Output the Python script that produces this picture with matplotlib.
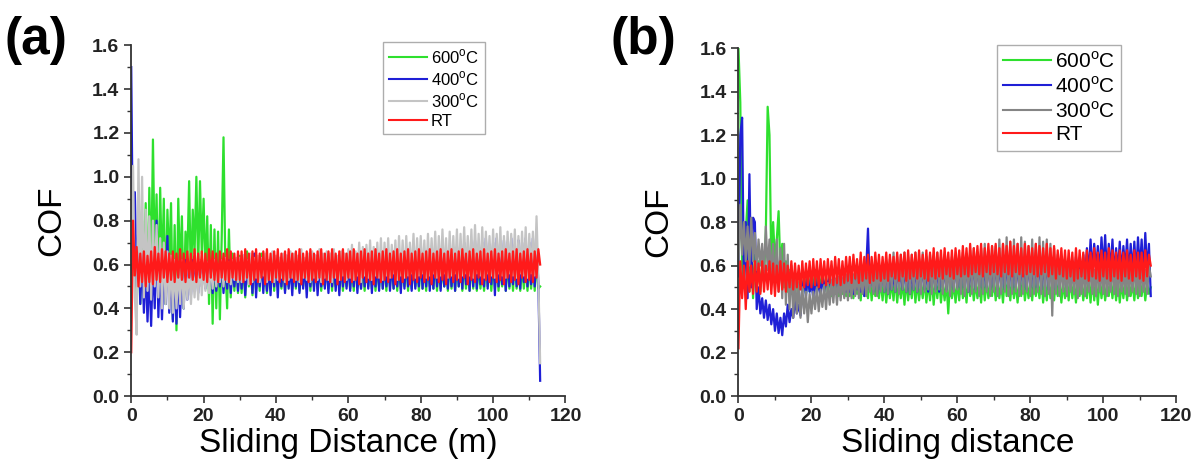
"""
COF vs sliding distance for the four test temperatures, panels (a) and (b).
"""

import numpy as np
import matplotlib
matplotlib.use("Agg")
from matplotlib import pyplot as plt
from matplotlib.ticker import MultipleLocator

# sampling grid: every 0.5 m from 0 to 113 m
distance = np.arange(0, 113.5, 0.5)

labels = ["600$^\\mathrm{o}$C", "400$^\\mathrm{o}$C", "300$^\\mathrm{o}$C", "RT"]

# all COF values below are read off the picture, stored x100
# first list of each series: 0 - 29.5 m, second list: 30 - 113 m

# ---- panel (a) ----
a_600 = [60, 55, 62, 45, 70, 42, 80, 48, 88, 40,
         95, 52, 117, 60, 92, 45, 95, 55, 90, 42,
         85, 60, 88, 35, 78, 30, 90, 55, 82, 40,
         75, 62, 98, 50, 85, 65, 100, 58, 98, 65,
         90, 55, 82, 42, 78, 33, 76, 40, 75, 35,
         72, 118, 60, 40, 76, 45, 65, 48, 62, 47] + \
        [64, 47, 60, 45, 66, 50, 58, 46, 63, 49,
         61, 48, 65, 50, 57, 47, 62, 49, 60, 48,
         62, 50, 58, 49, 61, 48, 63, 50, 59, 49,
         60, 49, 62, 48, 57, 50, 61, 49, 63, 48,
         59, 50, 62, 49, 60, 48, 58, 50, 61, 49,
         62, 48, 60, 50, 59, 49, 63, 48, 60, 50,
         61, 49, 58, 48, 62, 50, 60, 49, 59, 48,
         63, 50, 60, 49, 61, 48, 58, 50, 62, 49,
         60, 48, 61, 50, 59, 49, 62, 48, 60, 49,
         58, 50, 61, 48, 63, 49, 60, 50, 59, 48,
         62, 49, 60, 48, 61, 50, 59, 49, 62, 48,
         60, 49, 58, 50, 61, 48, 62, 49, 60, 48,
         61, 50, 59, 48, 62, 49, 60, 48, 61, 49,
         63, 48, 60, 49, 58, 48, 61, 50, 62, 48,
         60, 49, 61, 48, 59, 50, 62, 48, 60, 49,
         61, 48, 62, 49, 60, 48, 59, 49, 61, 48,
         60, 49, 61, 48, 62, 49, 50]

a_400 = [150, 60, 93, 50, 80, 42, 65, 38, 60, 34,
         58, 32, 62, 40, 80, 36, 62, 35, 60, 42,
         73, 38, 58, 34, 60, 33, 58, 36, 60, 40,
         62, 44, 60, 46, 62, 48, 60, 47, 62, 50,
         60, 49, 61, 50, 60, 47, 62, 48, 60, 50,
         61, 47, 60, 49, 62, 47, 60, 50, 61, 48] + \
        [62, 49, 64, 46, 60, 51, 63, 47, 65, 45,
         61, 50, 63, 47, 62, 48, 60, 46, 64, 50,
         62, 45, 63, 50, 61, 47, 64, 49, 60, 46,
         63, 50, 62, 47, 64, 49, 61, 45, 63, 50,
         62, 48, 64, 46, 60, 50, 63, 49, 61, 47,
         64, 50, 62, 48, 63, 46, 61, 50, 64, 49,
         62, 48, 65, 50, 63, 47, 61, 49, 64, 50,
         62, 49, 65, 47, 63, 50, 62, 48, 66, 49,
         63, 50, 64, 48, 62, 49, 65, 50, 63, 47,
         66, 49, 64, 50, 62, 48, 65, 49, 63, 50,
         66, 49, 64, 50, 67, 48, 63, 49, 65, 50,
         64, 48, 66, 50, 63, 49, 67, 50, 65, 48,
         68, 50, 66, 49, 70, 51, 67, 48, 69, 50,
         71, 49, 68, 51, 70, 50, 72, 49, 69, 51,
         70, 46, 72, 50, 69, 51, 71, 48, 70, 50,
         72, 51, 69, 50, 71, 49, 70, 52, 72, 50,
         70, 51, 72, 50, 68, 52, 7]

a_300 = [70, 105, 45, 28, 108, 50, 100, 45, 85, 48,
         82, 44, 80, 50, 78, 45, 72, 40, 70, 42,
         66, 40, 64, 38, 62, 40, 60, 42, 62, 40,
         58, 44, 60, 42, 58, 45, 60, 44, 62, 46,
         60, 48, 61, 47, 60, 49, 62, 50, 60, 52,
         62, 50, 63, 52, 61, 51, 62, 53, 63, 52] + \
        [63, 52, 64, 53, 62, 51, 65, 52, 63, 54,
         64, 52, 63, 55, 65, 52, 62, 53, 66, 52,
         64, 53, 63, 54, 65, 52, 64, 53, 66, 54,
         65, 53, 64, 52, 67, 54, 63, 53, 65, 52,
         66, 54, 64, 53, 67, 52, 65, 54, 66, 53,
         65, 52, 67, 54, 64, 53, 66, 55, 65, 53,
         67, 54, 69, 53, 66, 55, 70, 52, 68, 55,
         69, 54, 71, 53, 68, 55, 70, 54, 72, 53,
         70, 55, 72, 54, 69, 56, 71, 53, 73, 55,
         71, 54, 73, 55, 70, 56, 74, 54, 72, 55,
         73, 56, 71, 54, 74, 55, 72, 56, 75, 54,
         73, 55, 76, 56, 72, 54, 75, 55, 73, 56,
         76, 54, 74, 55, 77, 56, 73, 55, 76, 54,
         78, 56, 74, 55, 77, 54, 75, 56, 73, 55,
         76, 54, 74, 56, 77, 55, 73, 54, 75, 56,
         74, 55, 76, 54, 73, 56, 75, 55, 77, 54,
         74, 56, 75, 55, 82, 54, 15]

a_rt = [20, 80, 55, 68, 50, 65, 52, 66, 50, 64,
        52, 66, 51, 68, 53, 65, 52, 67, 54, 66,
        52, 65, 53, 66, 52, 65, 54, 67, 53, 65,
        52, 66, 54, 65, 53, 67, 52, 65, 54, 66,
        53, 65, 52, 67, 54, 66, 53, 65, 52, 66,
        54, 65, 53, 67, 52, 66, 54, 65, 53, 66] + \
       [53, 66, 52, 67, 54, 65, 51, 66, 53, 67,
        52, 65, 54, 66, 51, 67, 53, 65, 52, 66,
        54, 67, 52, 65, 53, 66, 51, 67, 54, 65,
        52, 66, 53, 67, 51, 65, 54, 66, 52, 67,
        53, 65, 52, 66, 54, 67, 51, 65, 53, 66,
        52, 67, 54, 65, 51, 66, 53, 67, 52, 65,
        54, 66, 52, 67, 53, 65, 51, 66, 54, 67,
        52, 65, 53, 66, 51, 67, 54, 65, 52, 66,
        53, 67, 52, 65, 54, 66, 51, 67, 53, 65,
        52, 66, 54, 67, 51, 65, 53, 66, 52, 67,
        54, 65, 52, 66, 53, 67, 51, 65, 54, 66,
        52, 67, 53, 65, 51, 66, 54, 67, 52, 65,
        53, 66, 52, 67, 54, 65, 51, 66, 53, 67,
        52, 65, 54, 66, 51, 67, 53, 65, 52, 66,
        54, 67, 52, 65, 53, 66, 51, 67, 54, 65,
        52, 66, 53, 67, 51, 65, 54, 66, 52, 67,
        53, 65, 52, 66, 54, 67, 60]

# ---- panel (b) ----
b_600 = [160, 135, 60, 50, 75, 90, 48, 70, 45, 65,
         50, 62, 48, 60, 55, 75, 133, 120, 60, 80,
         62, 72, 85, 58, 70, 50, 62, 48, 58, 47,
         56, 46, 55, 47, 56, 48, 55, 47, 57, 48,
         56, 49, 58, 48, 57, 49, 56, 48, 55, 47,
         56, 46, 55, 47, 54, 46, 55, 47, 54, 46] + \
        [54, 46, 55, 45, 53, 47, 55, 44, 54, 46,
         53, 45, 55, 44, 52, 46, 54, 45, 53, 44,
         54, 43, 52, 45, 53, 44, 55, 43, 52, 45,
         53, 42, 54, 44, 52, 45, 55, 43, 53, 44,
         52, 45, 54, 43, 53, 44, 55, 42, 53, 45,
         54, 43, 52, 44, 53, 38, 54, 45, 52, 43,
         53, 44, 55, 45, 52, 43, 54, 46, 53, 44,
         52, 45, 54, 43, 55, 44, 53, 45, 52, 46,
         54, 44, 53, 45, 52, 43, 55, 46, 53, 44,
         54, 45, 52, 43, 53, 46, 55, 44, 52, 45,
         53, 44, 54, 46, 52, 45, 55, 43, 53, 44,
         54, 45, 52, 44, 53, 46, 54, 43, 52, 45,
         53, 44, 55, 45, 52, 43, 54, 46, 53, 44,
         52, 45, 54, 43, 55, 44, 53, 42, 54, 45,
         53, 44, 52, 46, 54, 45, 53, 44, 55, 43,
         52, 45, 54, 44, 53, 46, 52, 44, 54, 45,
         53, 46, 54, 44, 52, 47, 50]

b_400 = [55, 120, 128, 50, 80, 45, 102, 50, 82, 80,
         40, 50, 38, 45, 36, 44, 35, 42, 33, 40,
         30, 38, 29, 36, 28, 38, 32, 42, 34, 40,
         36, 44, 38, 42, 37, 50, 54, 46, 55, 48,
         52, 45, 55, 47, 53, 46, 56, 48, 54, 50,
         55, 48, 56, 49, 55, 48, 57, 49, 56, 48] + \
        [56, 48, 58, 47, 57, 49, 55, 48, 57, 46,
         58, 77, 49, 57, 48, 58, 47, 57, 49, 58,
         48, 59, 47, 58, 49, 57, 48, 59, 50, 58,
         49, 60, 48, 59, 47, 58, 49, 60, 48, 59,
         50, 60, 49, 58, 48, 61, 50, 59, 49, 60,
         48, 61, 50, 59, 49, 60, 50, 62, 49, 61,
         50, 60, 49, 62, 50, 61, 48, 60, 50, 62,
         49, 61, 50, 62, 49, 60, 50, 63, 49, 61,
         50, 62, 49, 61, 50, 63, 49, 62, 50, 61,
         49, 63, 50, 61, 49, 62, 50, 63, 49, 62,
         50, 61, 49, 63, 50, 62, 49, 61, 50, 63,
         49, 62, 50, 61, 49, 63, 50, 62, 51, 61,
         50, 63, 51, 62, 52, 64, 51, 63, 53, 65,
         55, 68, 56, 72, 57, 70, 58, 69, 56, 73,
         58, 74, 56, 70, 57, 72, 55, 68, 57, 71,
         56, 69, 58, 72, 55, 70, 57, 71, 56, 73,
         58, 72, 55, 75, 57, 70, 46]

b_300 = [60, 88, 65, 80, 62, 78, 60, 82, 62, 75,
         58, 72, 60, 70, 56, 78, 58, 72, 55, 70,
         50, 72, 48, 68, 45, 70, 42, 65, 40, 60,
         36, 55, 38, 52, 36, 50, 38, 48, 34, 47,
         38, 48, 40, 50, 39, 49, 41, 51, 40, 52,
         42, 53, 43, 54, 42, 55, 44, 54, 45, 56] + \
        [44, 57, 45, 56, 46, 58, 45, 57, 47, 58,
         46, 57, 48, 59, 47, 58, 46, 60, 48, 59,
         48, 60, 47, 63, 49, 66, 48, 64, 47, 65,
         49, 66, 48, 64, 47, 65, 49, 66, 48, 63,
         47, 66, 48, 64, 49, 65, 47, 63, 48, 66,
         49, 64, 47, 65, 48, 62, 46, 64, 48, 63,
         49, 64, 47, 66, 46, 65, 48, 67, 47, 68,
         48, 66, 46, 68, 47, 70, 48, 67, 46, 69,
         48, 69, 46, 72, 47, 70, 48, 73, 46, 71,
         47, 72, 48, 70, 46, 73, 47, 71, 48, 69,
         46, 72, 47, 70, 48, 73, 47, 71, 46, 72,
         47, 70, 37, 68, 47, 65, 46, 62, 48, 61,
         46, 60, 48, 59, 47, 61, 45, 58, 47, 60,
         46, 59, 48, 61, 47, 58, 46, 60, 48, 59,
         47, 60, 46, 58, 48, 61, 47, 59, 46, 60,
         48, 58, 47, 60, 46, 59, 48, 61, 47, 59,
         46, 60, 48, 58, 47, 60, 55]

b_rt = [22, 62, 45, 60, 40, 62, 48, 60, 47, 62,
        48, 61, 47, 62, 48, 60, 49, 62, 47, 61,
        46, 60, 48, 62, 49, 61, 48, 60, 50, 62,
        49, 61, 50, 60, 49, 62, 50, 61, 51, 62,
        50, 63, 51, 62, 50, 63, 52, 62, 51, 63,
        52, 62, 51, 64, 52, 63, 51, 62, 52, 64] + \
       [53, 64, 52, 65, 54, 63, 52, 66, 53, 64,
        54, 65, 52, 64, 53, 66, 54, 65, 53, 64,
        54, 66, 53, 65, 55, 64, 54, 66, 53, 65,
        55, 66, 53, 67, 54, 65, 55, 66, 54, 67,
        55, 65, 54, 67, 53, 66, 55, 68, 54, 66,
        55, 67, 54, 68, 56, 66, 55, 67, 54, 68,
        56, 67, 55, 69, 56, 68, 55, 70, 56, 68,
        57, 69, 56, 70, 55, 68, 57, 70, 56, 69,
        57, 70, 56, 68, 55, 70, 57, 69, 56, 71,
        55, 69, 57, 70, 56, 68, 55, 70, 56, 69,
        57, 68, 56, 70, 55, 69, 56, 68, 57, 70,
        55, 68, 56, 69, 54, 67, 56, 68, 55, 67,
        54, 67, 55, 66, 53, 68, 54, 67, 55, 66,
        54, 67, 53, 66, 55, 68, 54, 66, 53, 67,
        55, 66, 54, 68, 53, 67, 55, 66, 54, 67,
        53, 66, 55, 67, 54, 65, 53, 67, 55, 66,
        54, 66, 53, 67, 55, 65, 60]

colors_a = ["#2ee02e", "#1f1fd6", "#c4c4c4", "#ff1a1a"]
colors_b = ["#2ee02e", "#1f1fd6", "#858585", "#ff1a1a"]

plt.rcParams["font.family"] = ["Liberation Sans", "DejaVu Sans"]
plt.rcParams["mathtext.fontset"] = "custom"
plt.rcParams["mathtext.rm"] = "Liberation Sans"


def style_axes(ax, xlabel):
    ax.set_xlim(0, 120)
    ax.set_ylim(0, 1.6)
    ax.xaxis.set_major_locator(MultipleLocator(20))
    ax.xaxis.set_minor_locator(MultipleLocator(10))
    ax.yaxis.set_major_locator(MultipleLocator(0.2))
    ax.yaxis.set_minor_locator(MultipleLocator(0.1))
    ax.yaxis.set_major_formatter(plt.FormatStrFormatter("%.1f"))
    for side in ["top", "right"]:
        ax.spines[side].set_visible(False)
    for side in ["left", "bottom"]:
        ax.spines[side].set_linewidth(1.3)
        ax.spines[side].set_color("#333333")
    ax.tick_params(which="major", direction="out", length=5, width=1.2,
                   labelsize=14, colors="#333333", labelcolor="#222222")
    ax.tick_params(which="minor", direction="out", length=3, width=1.0,
                   colors="#333333")
    for lbl in ax.get_xticklabels() + ax.get_yticklabels():
        lbl.set_fontweight("bold")
    ax.set_ylabel("COF", fontsize=24, labelpad=18)
    ax.set_xlabel(xlabel, fontsize=24, labelpad=2)


fig = plt.figure(figsize=(11.93, 4.71), dpi=100)
ax_a = fig.add_axes([0.110, 0.159, 0.364, 0.745])
ax_b = fig.add_axes([0.619, 0.159, 0.367, 0.739])

for series, color, label in zip([a_600, a_400, a_300, a_rt], colors_a, labels):
    ax_a.plot(distance, np.array(series) / 100, color=color, lw=1.6, label=label)
for series, color, label in zip([b_600, b_400, b_300, b_rt], colors_b, labels):
    ax_b.plot(distance, np.array(series) / 100, color=color, lw=1.6, label=label)

style_axes(ax_a, "Sliding Distance (m)")
style_axes(ax_b, "Sliding distance")

leg_a = ax_a.legend(loc="upper left", bbox_to_anchor=(0.58, 1.01), fontsize=12,
                    frameon=True, fancybox=False, edgecolor="#999999",
                    handlelength=2.3, handletextpad=0.2, labelspacing=0.2,
                    borderpad=0.35, borderaxespad=0)
leg_b = ax_b.legend(loc="upper left", bbox_to_anchor=(0.59, 1.01), fontsize=15,
                    frameon=True, fancybox=False, edgecolor="#999999",
                    handlelength=2.3, handletextpad=0.2, labelspacing=0.2,
                    borderpad=0.3, borderaxespad=0)
for leg in (leg_a, leg_b):
    leg.get_frame().set_linewidth(1.0)
    for line in leg.get_lines():
        line.set_linewidth(1.5)

fig.text(0.004, 0.965, "(a)", fontsize=37, fontweight="bold", va="top", ha="left")
fig.text(0.512, 0.965, "(b)", fontsize=37, fontweight="bold", va="top", ha="left")

fig.savefig("out.png", dpi=100)
